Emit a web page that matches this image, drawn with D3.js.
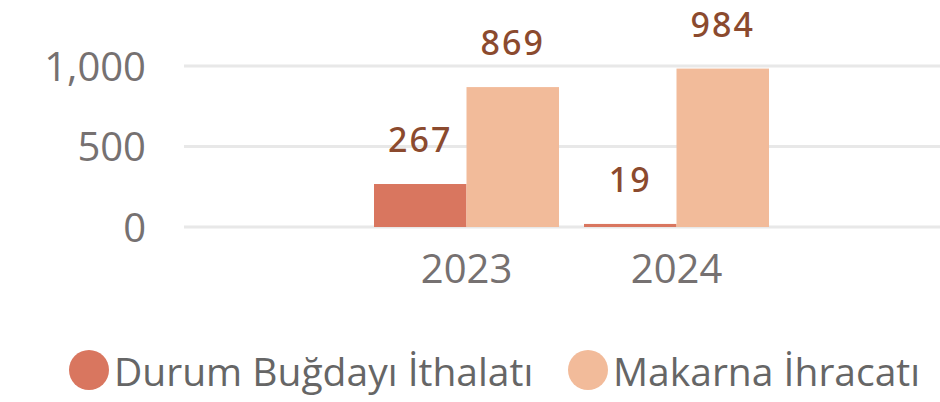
<!DOCTYPE html>
<html>
<head>
<meta charset="utf-8">
<script src="https://cdn.jsdelivr.net/npm/d3@7"></script>
<style>
  body { margin: 0; background: #fff; }
  svg { display: block; }
</style>
</head>
<body>
<div class="svg-container"></div>
<script>
const years = ["2023", "2024"];
const seriesNames = ["Durum Buğdayı İthalatı", "Makarna İhracatı"];
const durumValues = [267, 19];
const makarnaValues = [869, 984];
const yTicks = [0, 500, 1000];

const colors = ["#D9765F", "#F2BB9A"];

let width = 940, height = 402;

let svg = d3.select(".svg-container").append("svg")
  .attr("width", width)
  .attr("height", height);

// y scale
let y = d3.scaleLinear()
  .domain([0, 1000])
  .range([227, 66]);

// x scales
let x = d3.scaleBand()
  .domain(years)
  .range([374, 769])
  .paddingInner(25 / 210)
  .paddingOuter(0);

let x1 = d3.scaleBand()
  .domain(seriesNames)
  .range([0, x.bandwidth()]);

// gridlines
svg.append("g")
  .selectAll("line")
  .data(yTicks)
  .enter().append("line")
  .attr("x1", 184)
  .attr("x2", 940)
  .attr("y1", d => y(d))
  .attr("y2", d => y(d))
  .attr("stroke", "#E8E8E8")
  .attr("stroke-width", 3);

// y axis labels
let yAxis = d3.axisLeft(y)
  .tickValues(yTicks)
  .tickFormat(d3.format(","))
  .tickSize(0)
  .tickPadding(0);

svg.append("g")
  .attr("transform", "translate(146,0)")
  .call(yAxis)
  .call(g => g.select(".domain").remove())
  .selectAll("text")
  .attr("fill", "#767171")
  .style("font-family", "'Open Sans', sans-serif")
  .style("font-size", "40px")
  .attr("dy", "0.36em");

// x axis labels
let xAxis = d3.axisBottom(x)
  .tickSize(0)
  .tickPadding(0);

svg.append("g")
  .attr("transform", "translate(0,283)")
  .call(xAxis)
  .call(g => g.select(".domain").remove())
  .selectAll("text")
  .attr("fill", "#767171")
  .attr("dy", "0")
  .style("font-family", "'Open Sans', sans-serif")
  .style("font-size", "40px");

// data table
let data = years.map((yr, i) => ({
  year: yr,
  values: [
    { name: seriesNames[0], value: durumValues[i], color: colors[0] },
    { name: seriesNames[1], value: makarnaValues[i], color: colors[1] }
  ]
}));

let groups = svg.selectAll(".group")
  .data(data)
  .enter().append("g")
  .attr("class", "group")
  .attr("transform", d => "translate(" + x(d.year) + ",0)");

groups.selectAll("rect")
  .data(d => d.values)
  .enter().append("rect")
  .attr("x", d => x1(d.name))
  .attr("width", x1.bandwidth())
  .attr("y", d => y(d.value))
  .attr("height", d => y(0) - y(d.value))
  .attr("fill", d => d.color);

groups.selectAll(".label")
  .data(d => d.values)
  .enter().append("text")
  .attr("class", "label")
  .attr("x", d => x1(d.name) + x1.bandwidth() / 2)
  .attr("y", d => y(d.value) - 32)
  .attr("text-anchor", "middle")
  .attr("fill", "#8B4A2E")
  .style("font-family", "'Noto Sans', sans-serif")
  .style("font-size", "34px")
  .style("font-weight", "500")
  .style("letter-spacing", "2px")
  .text(d => d.value);

// legend
let legendX = [89, 588];
let legend = svg.selectAll(".legend")
  .data(seriesNames)
  .enter().append("g")
  .attr("class", "legend")
  .attr("transform", (d, i) => "translate(" + legendX[i] + ",370)");

legend.append("circle")
  .attr("r", 20)
  .attr("fill", (d, i) => colors[i]);

legend.append("text")
  .attr("x", 25)
  .attr("y", 16)
  .attr("fill", "#666666")
  .style("font-family", "'Open Sans', sans-serif")
  .style("font-size", "39px")
  .text(d => d);
</script>
</body>
</html>
